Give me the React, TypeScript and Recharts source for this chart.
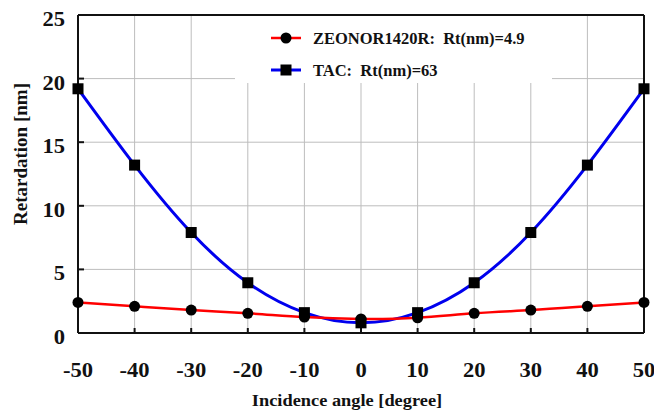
import React from "react";
import { LineChart, Line, XAxis, YAxis, CartesianGrid } from "recharts";

const angles = [-50, -40, -30, -20, -10, 0, 10, 20, 30, 40, 50];
const zeonorValues = [2.4, 2.1, 1.8, 1.55, 1.25, 1.1, 1.2, 1.55, 1.8, 2.1, 2.4];
const tacValues = [19.2, 13.2, 7.9, 3.95, 1.6, 0.8, 1.6, 3.95, 7.9, 13.2, 19.2];
const xTicks = [-50, -40, -30, -20, -10, 0, 10, 20, 30, 40, 50];
const yTicks = [0, 5, 10, 15, 20, 25];
const zeonorLabel = "ZEONOR1420R:  Rt(nm)=4.9";
const tacLabel = "TAC:  Rt(nm)=63";
const xTitle = "Incidence angle [degree]";
const yTitle = "Retardation [nm]";

const data = angles.map((a, i) => ({ angle: a, zeonor: zeonorValues[i], tac: tacValues[i] }));

const FONT = "Liberation Serif";
const txt = { fontFamily: FONT, fontWeight: 700 as const };

const XTick = (props: any) => {
  const { x, y, payload } = props;
  return (
    <text transform={`translate(${x} ${y}) scale(1.1 1)`} x={0} y={0} textAnchor="middle" style={{ ...txt, fontSize: 20.5 }} fill="#111">
      {payload.value}
    </text>
  );
};

const YTick = (props: any) => {
  const { x, y, payload } = props;
  return (
    <text transform={`translate(${x} ${y + 11}) scale(1.1 1)`} x={0} y={0} textAnchor="end" style={{ ...txt, fontSize: 20.5 }} fill="#111">
      {payload.value}
    </text>
  );
};

const SquareDot = (props: any) => {
  const { cx, cy } = props;
  if (cx == null || cy == null) return null;
  return <rect x={cx - 5.5} y={cy - 5.5} width={11} height={11} fill="#000" />;
};

const CircleDot = (props: any) => {
  const { cx, cy } = props;
  if (cx == null || cy == null) return null;
  return <circle cx={cx} cy={cy} r={5.5} fill="#000" />;
};

const LegendBox = () => (
  <div style={{ position: "absolute", left: 235, top: 16, width: 317, height: 67, background: "#fff" }}>
    <svg width={317} height={67}>
      <line x1={36} y1={22} x2={66} y2={22} stroke="#ff0000" strokeWidth={2.5} />
      <circle cx={51} cy={22} r={5.5} fill="#000" />
      <text x={78} y={28} style={{ ...txt, fontSize: 16.5, whiteSpace: "pre" }} fill="#111">
        {zeonorLabel}
      </text>
      <line x1={36} y1={54} x2={66} y2={54} stroke="#0000ee" strokeWidth={3} />
      <rect x={45.5} y={48.5} width={11} height={11} fill="#000" />
      <text x={78} y={60} style={{ ...txt, fontSize: 16.5, whiteSpace: "pre" }} fill="#111">
        {tacLabel}
      </text>
    </svg>
  </div>
);

export default function App() {
  return (
    <div style={{ position: "absolute", left: 0, top: 0, width: 654, height: 412, background: "#fff" }}>
      <LineChart width={654} height={412} data={data} margin={{ top: 0, right: 0, bottom: 0, left: 0 }}>
        <CartesianGrid stroke="#bdbdbd" strokeWidth={1} />
        <XAxis
          dataKey="angle"
          type="number"
          domain={[-50, 50]}
          ticks={xTicks}
          height={79}
          axisLine={{ stroke: "#111", strokeWidth: 2 }}
          tickLine={{ stroke: "#111", strokeWidth: 2 }}
          tickSize={-5}
          tickMargin={49}
          tick={<XTick />}
          interval={0}
          label={{
            content: (p: any) => {
              const vb = p.viewBox;
              const cx = vb.x + vb.width / 2 - 14;
              return (
                <text transform={`translate(${cx} 406) scale(1.08 1)`} x={0} y={0} textAnchor="middle" style={{ ...txt, fontSize: 17 }} fill="#111">
                  {xTitle}
                </text>
              );
            },
          }}
        />
        <XAxis
          xAxisId="top"
          orientation="top"
          dataKey="angle"
          type="number"
          domain={[-50, 50]}
          ticks={xTicks}
          height={15}
          axisLine={{ stroke: "#111", strokeWidth: 2 }}
          tickLine={{ stroke: "#111", strokeWidth: 1.5 }}
          tickSize={-5}
          tick={false}
        />
        <YAxis
          type="number"
          domain={[0, 25]}
          ticks={yTicks}
          width={78}
          axisLine={{ stroke: "#111", strokeWidth: 2 }}
          tickLine={{ stroke: "#111", strokeWidth: 2 }}
          tickSize={-6}
          tickMargin={19}
          tick={<YTick />}
          interval={0}
          label={{
            content: () => {
              const cx = 20;
              const cy = 154;
              return (
                <text x={cx} y={cy} transform={`rotate(-90 ${cx} ${cy})`} textAnchor="middle" dominantBaseline="central" style={{ ...txt, fontSize: 19 }} fill="#111">
                  {yTitle}
                </text>
              );
            },
          }}
        />
        <YAxis
          yAxisId="right"
          orientation="right"
          type="number"
          domain={[0, 25]}
          ticks={yTicks}
          width={10}
          axisLine={{ stroke: "#111", strokeWidth: 2 }}
          tickLine={false}
          tick={false}
        />
        <Line
          dataKey="tac"
          type="natural"
          stroke="#0000ee"
          strokeWidth={3}
          dot={<SquareDot />}
          activeDot={false}
          isAnimationActive={false}
        />
        <Line
          dataKey="zeonor"
          type="natural"
          stroke="#ff0000"
          strokeWidth={2.5}
          dot={<CircleDot />}
          activeDot={false}
          isAnimationActive={false}
        />
      </LineChart>
      <LegendBox />
    </div>
  );
}
